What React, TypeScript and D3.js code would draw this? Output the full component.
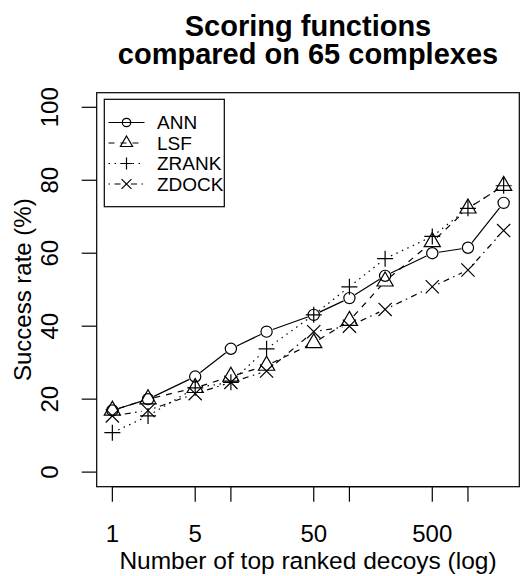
import React from 'react';
import * as d3 from 'd3';

// number of top ranked decoys (log axis)
const decoys = [1, 2, 5, 10, 20, 50, 100, 200, 500, 1000, 2000];
// success rates (%) per scoring function
const annRate = [16.9, 20.0, 26.2, 33.8, 38.5, 43.1, 47.7, 53.8, 60.0, 61.5, 73.8];
const lsfRate = [16.9, 20.0, 23.1, 26.2, 29.2, 35.4, 41.5, 52.3, 63.1, 72.3, 78.5];
const zrankRate = [10.8, 15.4, 23.1, 24.6, 33.8, 43.1, 50.8, 58.5, 64.6, 72.3, 78.5];
const zdockRate = [15.4, 16.9, 21.5, 24.6, 27.7, 38.5, 40.0, 44.6, 50.8, 55.4, 66.2];

const xTicks = [1, 5, 10, 50, 100, 500, 1000];
const xTickLabels = ['1', '5', '', '50', '', '500', ''];
const yTicks = [0, 20, 40, 60, 80, 100];

const seriesNames = ['ANN', 'LSF', 'ZRANK', 'ZDOCK'];
const seriesValues = [annRate, lsfRate, zrankRate, zdockRate];
const seriesShapes = ['circle', 'triangle', 'plus', 'cross'];
const seriesDash = ['none', '6,6', '1.5,4.5', '1.5,4.5,6,4.5'];

const FONT = '"Liberation Sans", Arial, Helvetica, sans-serif';
const W = 520;
const H = 576;
const box = { left: 96.7, right: 519.3, top: 92.7, bottom: 486.7 };

function Marker({ shape, x, y, s = 1 }) {
  const st = { fill: 'none', stroke: '#000', strokeWidth: 1.2 };
  if (shape === 'circle') return <circle cx={x} cy={y} r={5.6 * s} {...st} />;
  if (shape === 'triangle') {
    const xc = 6 * s;
    const r = 1.555 * xc, h = 1.347 * xc, yc = 0.778 * xc;
    return <path d={`M${x},${y - r}L${x + h},${y + yc}L${x - h},${y + yc}Z`} {...st} />;
  }
  if (shape === 'plus') {
    const a = 8 * s;
    return <path d={`M${x - a},${y}H${x + a}M${x},${y - a}V${y + a}`} {...st} />;
  }
  const a = 6.6 * s;
  return <path d={`M${x - a},${y - a}L${x + a},${y + a}M${x - a},${y + a}L${x + a},${y - a}`} {...st} />;
}

export default function App() {
  const logLo = 0, logHi = Math.log10(2000);
  const padX = (logHi - logLo) * 0.04;
  const x = d3.scaleLog()
    .domain([Math.pow(10, logLo - padX), Math.pow(10, logHi + padX)])
    .range([box.left, box.right]);
  const y = d3.scaleLinear().domain([-4, 104]).range([box.bottom, box.top]);

  // type "b": segments with gaps around the points
  const gap = 6.5;
  const segs = (vals) => {
    let d = '';
    for (let i = 0; i < vals.length - 1; i++) {
      const x0 = x(decoys[i]), y0 = y(vals[i]);
      const x1 = x(decoys[i + 1]), y1 = y(vals[i + 1]);
      const len = Math.hypot(x1 - x0, y1 - y0);
      if (len <= 2 * gap) continue;
      const ux = (x1 - x0) / len, uy = (y1 - y0) / len;
      d += `M${x0 + ux * gap},${y0 + uy * gap}L${x1 - ux * gap},${y1 - uy * gap}`;
    }
    return d;
  };

  const legendRows = [122.5, 143, 163.5, 184];

  return (
    <svg width={W} height={H} style={{ position: 'absolute', left: 0, top: 0, background: '#fff' }}
      fontFamily={FONT}>
      <rect x={0} y={0} width={W} height={H} fill="#fff" />
      {/* title */}
      <text x={(box.left + box.right) / 2} y={36} textAnchor="middle" fontSize={29} fontWeight="bold">
        Scoring functions
      </text>
      <text x={(box.left + box.right) / 2} y={63.5} textAnchor="middle" fontSize={29} fontWeight="bold">
        compared on 65 complexes
      </text>

      {/* plot box */}
      <rect x={box.left} y={box.top} width={box.right - box.left} height={box.bottom - box.top}
        fill="none" stroke="#000" strokeWidth={1.2} />

      {/* x axis */}
      <line x1={x(xTicks[0])} x2={x(xTicks[xTicks.length - 1])} y1={box.bottom} y2={box.bottom}
        stroke="#000" strokeWidth={1.2} />
      {xTicks.map((t, i) => (
        <g key={t}>
          <line x1={x(t)} x2={x(t)} y1={box.bottom} y2={box.bottom + 15} stroke="#000" strokeWidth={1.2} />
          {xTickLabels[i] && (
            <text x={x(t)} y={542} textAnchor="middle" fontSize={24}>{xTickLabels[i]}</text>
          )}
        </g>
      ))}
      <text x={(box.left + box.right) / 2} y={569} textAnchor="middle" fontSize={24.5}>
        Number of top ranked decoys (log)
      </text>

      {/* y axis */}
      {yTicks.map((t) => (
        <g key={t}>
          <line x1={box.left - 15} x2={box.left} y1={y(t)} y2={y(t)} stroke="#000" strokeWidth={1.2} />
          <text transform={`translate(58,${y(t)}) rotate(-90)`} textAnchor="middle" fontSize={24}>{t}</text>
        </g>
      ))}
      <text transform={`translate(31,${(box.top + box.bottom) / 2}) rotate(-90)`} textAnchor="middle" fontSize={24}>
        Success rate (%)
      </text>

      {/* series */}
      {seriesValues.map((vals, k) => (
        <g key={seriesNames[k]}>
          <path d={segs(vals)} fill="none" stroke="#000" strokeWidth={1.2}
            strokeDasharray={seriesDash[k]} />
          {vals.map((v, i) => (
            <Marker key={i} shape={seriesShapes[k]} x={x(decoys[i])} y={y(v)} />
          ))}
        </g>
      ))}

      {/* legend */}
      <rect x={104.3} y={99.3} width={120} height={107.4} fill="#fff" stroke="#000" strokeWidth={1.2} />
      {seriesNames.map((name, k) => (
        <g key={name}>
          <line x1={108.5} x2={144.5} y1={legendRows[k]} y2={legendRows[k]} stroke="#000" strokeWidth={1.2}
            strokeDasharray={seriesDash[k]} />
          <Marker shape={seriesShapes[k]} x={126.5} y={legendRows[k]} s={0.75} />
          <text x={157} y={legendRows[k]} dy="0.35em" fontSize={19}>{name}</text>
        </g>
      ))}
    </svg>
  );
}
